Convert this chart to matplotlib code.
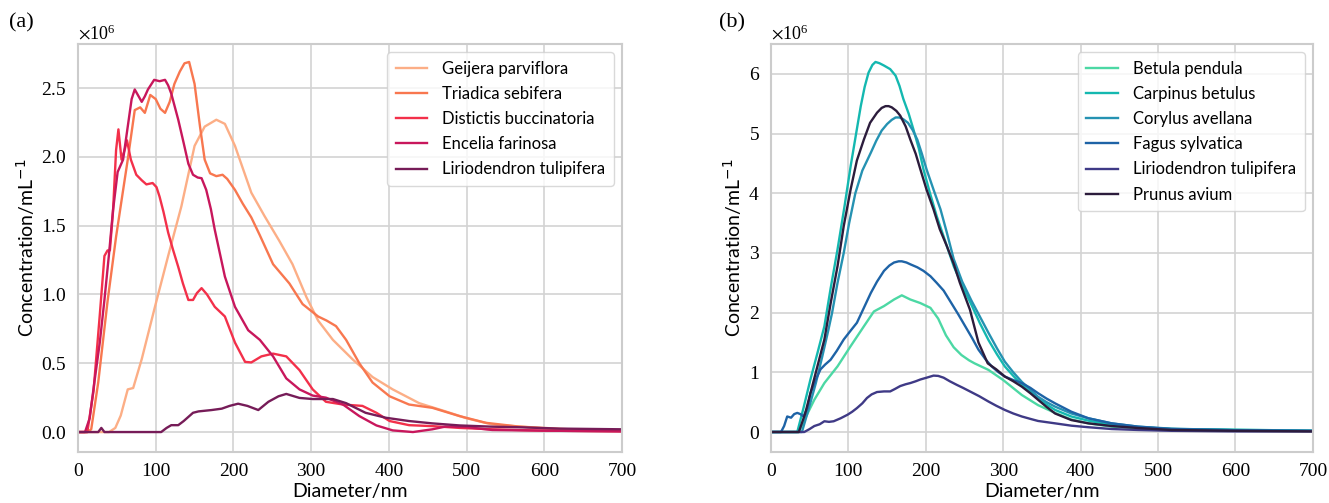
import matplotlib
matplotlib.use("Agg")
import matplotlib.pyplot as plt
from matplotlib.ticker import ScalarFormatter, MultipleLocator
import numpy as np

# ---- panel (a) data, concentration in units of 1e6 per mL ----
geijera_d = [0, 40, 48, 55, 64, 71, 82, 99, 116, 133, 150, 163, 178, 189, 202, 223, 240, 259,
             276, 294, 309, 328, 354, 379, 405, 439, 473, 500, 533, 567, 600, 650, 700]
geijera_c = [0, 0, 0.03, 0.12, 0.31, 0.32, 0.53, 0.91, 1.28, 1.64, 2.08, 2.22, 2.27, 2.24, 2.08,
             1.74, 1.57, 1.39, 1.22, 0.98, 0.81, 0.67, 0.525, 0.40, 0.31, 0.21, 0.15, 0.10,
             0.055, 0.04, 0.03, 0.015, 0.01]

triadica_d = [0, 12, 17, 26, 38, 49, 57, 64, 73, 80, 86, 93, 100, 106, 112, 118, 124, 131, 137,
              143, 150, 157, 163, 170, 178, 186, 192, 202, 212, 223, 234, 251, 272, 289, 309,
              320, 332, 345, 362, 379, 401, 426, 456, 491, 525, 567, 620, 700]
triadica_c = [0, 0, 0.02, 0.36, 0.95, 1.42, 1.72, 1.98, 2.34, 2.36, 2.32, 2.45, 2.42, 2.35, 2.32,
              2.40, 2.53, 2.62, 2.68, 2.69, 2.53, 2.22, 1.98, 1.88, 1.86, 1.87, 1.84, 1.76, 1.66,
              1.56, 1.43, 1.22, 1.08, 0.93, 0.84, 0.81, 0.77, 0.67, 0.50, 0.36, 0.26, 0.20,
              0.176, 0.116, 0.067, 0.04, 0.02, 0.01]

distictis_d = [0, 12, 20, 28, 34, 38, 41, 45, 49, 52, 56, 60, 63, 68, 75, 82, 88, 96, 101, 105,
               110, 116, 122, 129, 135, 142, 148, 153, 159, 166, 176, 189, 202, 215, 223, 236,
               251, 268, 285, 302, 319, 341, 366, 384, 401, 426, 456, 491, 533, 600, 700]
distictis_c = [0, 0, 0.3, 0.85, 1.28, 1.32, 1.32, 1.6, 2.05, 2.2, 1.98, 2.05, 2.12, 1.98, 1.87,
               1.83, 1.80, 1.81, 1.78, 1.71, 1.60, 1.45, 1.33, 1.20, 1.08, 0.96, 0.96, 1.01,
               1.046, 1.0, 0.91, 0.84, 0.65, 0.51, 0.506, 0.55, 0.57, 0.55, 0.45, 0.31, 0.22,
               0.20, 0.19, 0.14, 0.08, 0.05, 0.043, 0.03, 0.02, 0.01, 0.005]

encelia_d = [0, 9, 15, 21, 28, 34, 40, 45, 51, 58, 64, 69, 73, 77, 82, 86, 90, 98, 105, 112,
             116, 120, 129, 136, 142, 148, 154, 159, 165, 171, 176, 189, 202, 219, 234, 251,
             268, 285, 302, 319, 341, 362, 384, 405, 431, 456, 473, 499, 533, 600, 700]
encelia_c = [0, 0, 0.1, 0.36, 0.65, 0.96, 1.3, 1.61, 1.89, 1.98, 2.22, 2.42, 2.49, 2.45, 2.40,
             2.44, 2.49, 2.56, 2.55, 2.56, 2.52, 2.46, 2.27, 2.10, 1.95, 1.87, 1.85, 1.845,
             1.76, 1.62, 1.47, 1.13, 0.91, 0.74, 0.67, 0.55, 0.39, 0.31, 0.265, 0.25, 0.20,
             0.116, 0.048, 0.012, 0.0, 0.02, 0.04, 0.036, 0.015, 0.01, 0.005]

lirio_a_d = [0, 26, 30, 34, 107, 114, 120, 129, 136, 142, 148, 155, 172, 185, 195, 206, 218,
             232, 245, 258, 268, 285, 302, 328, 345, 370, 396, 426, 456, 491, 533, 567, 620, 700]
lirio_a_c = [0, 0, 0.03, 0, 0, 0.03, 0.05, 0.05, 0.08, 0.11, 0.14, 0.15, 0.16, 0.17, 0.19,
             0.206, 0.19, 0.16, 0.22, 0.26, 0.277, 0.248, 0.24, 0.24, 0.21, 0.14, 0.104, 0.08,
             0.063, 0.048, 0.039, 0.035, 0.025, 0.02]

# ---- panel (b) data ----
betula_d = [0, 36, 45, 56, 69, 86, 103, 120, 133, 146, 159, 169, 180, 193, 206, 216, 226, 236,
            246, 256, 263, 281, 300, 324, 345, 367, 388, 410, 440, 474, 550, 600, 700]
betula_c = [0, 0, 0.25, 0.54, 0.82, 1.10, 1.44, 1.77, 2.02, 2.11, 2.22, 2.29, 2.22, 2.16, 2.08,
            1.90, 1.62, 1.42, 1.29, 1.20, 1.15, 1.04, 0.87, 0.62, 0.45, 0.32, 0.21, 0.145,
            0.09, 0.06, 0.04, 0.03, 0.02]

carpinus_d = [0, 34, 42, 51, 60, 69, 77, 86, 95, 103, 110, 116, 121, 126, 131, 135, 140, 146,
              154, 161, 166, 171, 178, 184, 191, 197, 205, 214, 225, 236, 247, 259, 270, 281,
              292, 302, 313, 324, 335, 345, 356, 367, 388, 410, 440, 474, 517, 600, 700]
carpinus_c = [0, 0, 0.40, 0.88, 1.32, 1.77, 2.40, 3.06, 3.78, 4.46, 5.0, 5.46, 5.78, 6.02, 6.15,
              6.20, 6.18, 6.14, 6.08, 5.97, 5.80, 5.58, 5.33, 5.07, 4.75, 4.40, 4.02, 3.62,
              3.20, 2.78, 2.45, 2.13, 1.82, 1.54, 1.30, 1.10, 0.94, 0.79, 0.67, 0.565, 0.46,
              0.37, 0.26, 0.19, 0.12, 0.08, 0.05, 0.04, 0.02]

corylus_d = [0, 40, 49, 58, 66, 74, 79, 86, 94, 101, 109, 118, 129, 136, 143, 150, 156, 161,
             166, 171, 177, 183, 189, 195, 201, 210, 219, 227, 236, 247, 259, 270, 281, 292,
             302, 313, 324, 335, 345, 356, 367, 388, 410, 440, 474, 517, 600, 700]
corylus_c = [0, 0, 0.4, 0.82, 1.25, 1.70, 2.0, 2.50, 3.0, 3.50, 4.0, 4.38, 4.68, 4.88, 5.05,
             5.16, 5.23, 5.27, 5.27, 5.24, 5.18, 5.06, 4.90, 4.66, 4.40, 4.06, 3.73, 3.35,
             2.90, 2.52, 2.20, 1.93, 1.66, 1.40, 1.18, 1.0, 0.84, 0.71, 0.59, 0.50, 0.425,
             0.31, 0.23, 0.145, 0.09, 0.056, 0.03, 0.02]

fagus_d = [0, 13, 17, 21, 26, 30, 34, 38, 42, 47, 51, 58, 64, 70, 77, 85, 94, 103, 111, 120,
           129, 137, 146, 153, 159, 165, 169, 175, 180, 189, 197, 206, 214, 223, 233, 242, 251,
           260, 268, 277, 285, 294, 302, 313, 324, 335, 345, 356, 367, 388, 410, 440, 474, 517,
           600, 700]
fagus_c = [0, 0, 0.1, 0.26, 0.24, 0.30, 0.32, 0.30, 0.26, 0.40, 0.65, 0.88, 1.05, 1.13, 1.21,
           1.36, 1.55, 1.70, 1.83, 2.08, 2.33, 2.52, 2.70, 2.79, 2.84, 2.86, 2.86, 2.84, 2.81,
           2.76, 2.70, 2.61, 2.50, 2.37, 2.16, 1.97, 1.77, 1.57, 1.38, 1.22, 1.10, 1.0, 0.93,
           0.87, 0.82, 0.74, 0.65, 0.56, 0.48, 0.34, 0.23, 0.145, 0.09, 0.05, 0.03, 0.02]

lirio_b_d = [0, 43, 50, 56, 63, 69, 75, 81, 90, 99, 105, 111, 118, 124, 130, 137, 146, 154, 160,
             167, 174, 180, 187, 193, 201, 210, 216, 223, 231, 240, 248, 257, 269, 281, 291,
             302, 313, 324, 335, 345, 356, 367, 388, 410, 440, 474, 517, 600, 700]
lirio_b_c = [0, 0, 0.05, 0.1, 0.13, 0.18, 0.17, 0.18, 0.23, 0.29, 0.34, 0.40, 0.48, 0.57, 0.63,
             0.67, 0.68, 0.68, 0.72, 0.77, 0.80, 0.82, 0.85, 0.88, 0.91, 0.945, 0.94, 0.91,
             0.85, 0.79, 0.74, 0.68, 0.60, 0.51, 0.44, 0.37, 0.31, 0.26, 0.22, 0.185, 0.165,
             0.145, 0.106, 0.08, 0.05, 0.034, 0.02, 0.01, 0.01]

prunus_d = [0, 36, 44, 51, 60, 69, 77, 86, 94, 103, 111, 120, 128, 137, 143, 148, 152, 156, 162,
            167, 174, 180, 187, 193, 201, 210, 218, 227, 236, 244, 257, 268, 280, 291, 302, 313,
            324, 335, 345, 356, 367, 388, 410, 440, 474, 517, 600, 700]
prunus_c = [0, 0, 0.3, 0.65, 1.10, 1.55, 2.15, 2.78, 3.45, 4.07, 4.55, 4.90, 5.18, 5.35, 5.43,
            5.46, 5.46, 5.44, 5.38, 5.30, 5.12, 4.90, 4.66, 4.40, 4.06, 3.73, 3.40, 3.12, 2.82,
            2.50, 2.05, 1.50, 1.15, 1.05, 0.93, 0.85, 0.76, 0.65, 0.54, 0.42, 0.31, 0.20,
            0.145, 0.10, 0.067, 0.034, 0.02, 0.01]

series_a = [
    ("Geijera parviflora", geijera_d, geijera_c, "#fcae86"),
    ("Triadica sebifera", triadica_d, triadica_c, "#f8774f"),
    ("Distictis buccinatoria", distictis_d, distictis_c, "#f3304a"),
    ("Encelia farinosa", encelia_d, encelia_c, "#c8175c"),
    ("Liriodendron tulipifera", lirio_a_d, lirio_a_c, "#761c58"),
]
series_b = [
    ("Betula pendula", betula_d, betula_c, "#4cd8a4"),
    ("Carpinus betulus", carpinus_d, carpinus_c, "#14b8b0"),
    ("Corylus avellana", corylus_d, corylus_c, "#2592b2"),
    ("Fagus sylvatica", fagus_d, fagus_c, "#1e63a6"),
    ("Liriodendron tulipifera", lirio_b_d, lirio_b_c, "#3f3a86"),
    ("Prunus avium", prunus_d, prunus_c, "#2c1c3c"),
]

plt.rcParams["mathtext.fontset"] = "stix"
sans = ["Lato", "DejaVu Sans"]
serif = ["Liberation Serif", "DejaVu Serif"]

fig = plt.figure(figsize=(13.29, 5.03), dpi=100)
ax_a = fig.add_axes([0.0587, 0.1014, 0.4093, 0.811])
ax_b = fig.add_axes([0.5801, 0.1014, 0.4078, 0.811])


def style_axes(ax, ylim, step):
    ax.set_facecolor("white")
    ax.set_xlim(0, 700)
    ax.set_ylim(*ylim)
    ax.xaxis.set_major_locator(MultipleLocator(100))
    ax.yaxis.set_major_locator(MultipleLocator(step))
    fmt = ScalarFormatter(useMathText=True)
    fmt.set_powerlimits((0, 0))
    ax.yaxis.set_major_formatter(fmt)
    ax.grid(True, color="#d3d3d3", linewidth=1.2)
    ax.set_axisbelow(True)
    for sp in ax.spines.values():
        sp.set_color("#cccccc")
        sp.set_linewidth(1.5)
    ax.tick_params(length=0, pad=8, labelsize=14)
    for lbl in ax.get_xticklabels() + ax.get_yticklabels():
        lbl.set_family(serif)
    ax.yaxis.get_offset_text().set_family(serif)
    ax.yaxis.get_offset_text().set_fontsize(13)
    ax.set_xlabel("Diameter/nm", family=sans, fontsize=14, labelpad=2)
    ax.set_ylabel("Concentration/mL$^{-1}$", family=sans, fontsize=14,
                  math_fontfamily="dejavusans", labelpad=3)


for ax, series, ylim, step, tag, tx in [
    (ax_a, series_a, (-0.145e6, 2.82e6), 0.5e6, "(a)", 0.007),
    (ax_b, series_b, (-0.335e6, 6.5e6), 1e6, "(b)", 0.541),
]:
    for name, d, c, col in series:
        ax.plot(d, np.array(c) * 1e6, color=col, linewidth=1.7, label=name)
    style_axes(ax, ylim, step)
    leg = ax.legend(loc="upper right", prop={"family": sans, "size": 12},
                    frameon=True, fancybox=True, borderpad=0.5, labelspacing=0.55,
                    handlelength=1.9, handletextpad=0.9, borderaxespad=0.5)
    leg.get_frame().set_edgecolor("#d0d0d0")
    leg.get_frame().set_linewidth(1.0)
    fig.text(tx, 0.945, tag, family=serif, fontsize=16)

fig.savefig("out.png", dpi=100)
